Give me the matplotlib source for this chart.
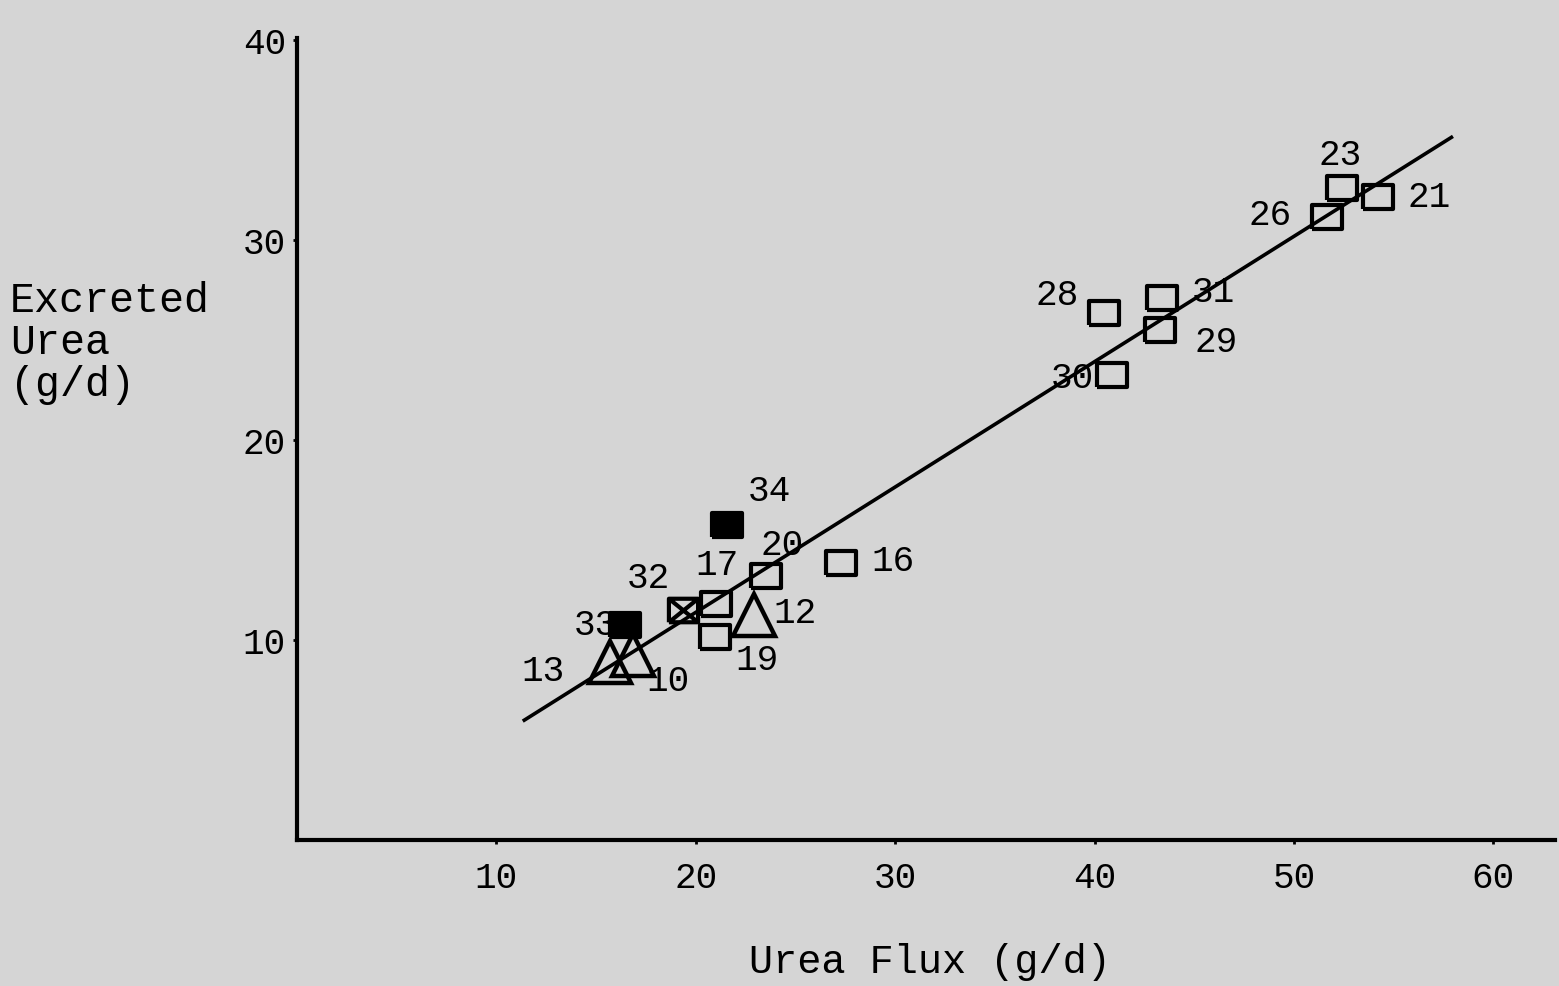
import numpy as np
import matplotlib.pyplot as plt
from matplotlib.path import Path

# Data
labels = ["23", "21", "26", "28", "31", "29", "30", "34", "20", "16",
          "17", "32", "33", "12", "19", "13", "10"]
urea_flux = [52.4, 54.2, 51.65, 40.5, 43.4, 43.3, 40.9, 21.55, 23.5, 27.3,
             21.0, 19.35, 16.45, 22.9, 20.96, 15.7, 16.85]
excreted = [32.6, 32.15, 31.15, 26.35, 27.1, 25.5, 23.25, 15.75, 13.2, 13.85,
            11.8, 11.5, 10.75, 11.25, 10.15, 8.9, 9.25]
kind = ["open", "open", "open", "open", "open", "open", "open", "filled", "open", "open",
        "open", "crossed", "filled", "tri", "open", "tri", "tri"]

# regression line
fit_slope = 0.627
fit_intercept = -1.15
fit_range = [11.4, 57.9]

xticks = [10, 20, 30, 40, 50, 60]
yticks = [10, 20, 30, 40]

plt.rcParams['font.family'] = ['Liberation Mono', 'DejaVu Sans Mono']
bg = '#d5d5d5'

fig = plt.figure(figsize=(15.59, 9.86), dpi=100, facecolor=bg)
ax = fig.add_axes([0.1905, 0.148, 0.807, 0.813])
ax.set_facecolor(bg)

# markers: slightly wide rectangles like the typed figure
rect = [(-1.24, -1), (1.24, -1), (1.24, 1), (-1.24, 1), (-1.24, -1)]
cross_path = Path(rect + [(-1.24, -1), (1.24, 1), (-1.24, 1), (1.24, -1)],
                  [Path.MOVETO] + [Path.LINETO] * 4 + [Path.MOVETO, Path.LINETO, Path.MOVETO, Path.LINETO])

fx = np.array(fit_range)
ax.plot(fx, fit_slope * fx + fit_intercept, color='black', lw=2.6, zorder=2)

for x, y, k in zip(urea_flux, excreted, kind):
    if k == "open":
        ax.plot(x, y, marker=rect, ms=21, mfc='none', mec='black', mew=3, zorder=3)
    elif k == "filled":
        ax.plot(x, y, marker=rect, ms=21, mfc='black', mec='black', mew=3, zorder=3)
    elif k == "crossed":
        ax.plot(x, y, marker=cross_path, ms=21, mfc='none', mec='black', mew=3, zorder=3)
    else:
        ax.plot(x, y, marker='^', ms=30, mfc='none', mec='black', mew=3.2, zorder=3)

# label offsets (points) from each marker
offsets = {"23": (-1, 24), "21": (37, 0), "26": (-41, 1), "28": (-34, 13),
           "31": (37, 4), "29": (40, -9), "30": (-29, -2), "34": (31, 24),
           "20": (12, 22), "16": (37, 1), "17": (1, 28), "32": (-25, 23),
           "33": (-21, 0), "12": (30, 1), "19": (30, -17), "13": (-48, -7),
           "10": (25, -19)}
for lab, x, y in zip(labels, urea_flux, excreted):
    ax.annotate(lab, (x, y), xytext=offsets[lab], textcoords='offset points',
                ha='center', va='center', fontsize=26, zorder=4)

ax.set_xlim(0, 63.1)
ax.set_ylim(0, 40.1)
ax.set_xticks(xticks)
ax.set_yticks(yticks)
ax.tick_params(axis='both', direction='out', length=3, width=2, labelsize=26)
ax.tick_params(axis='x', pad=12)
ax.tick_params(axis='y', pad=5)
for s in ['top', 'right']:
    ax.spines[s].set_visible(False)
for s in ['left', 'bottom']:
    ax.spines[s].set_linewidth(3)

fig.text(930 / 1559, 1 - 962 / 986, "Urea Flux (g/d)", ha='center', va='center', fontsize=29)
fig.text(10 / 1559, 1 - 343 / 986, "Excreted\nUrea\n(g/d)", ha='left', va='center',
         fontsize=30, linespacing=1.05)

fig.savefig("out.png", dpi=100, facecolor=bg)
plt.close()
